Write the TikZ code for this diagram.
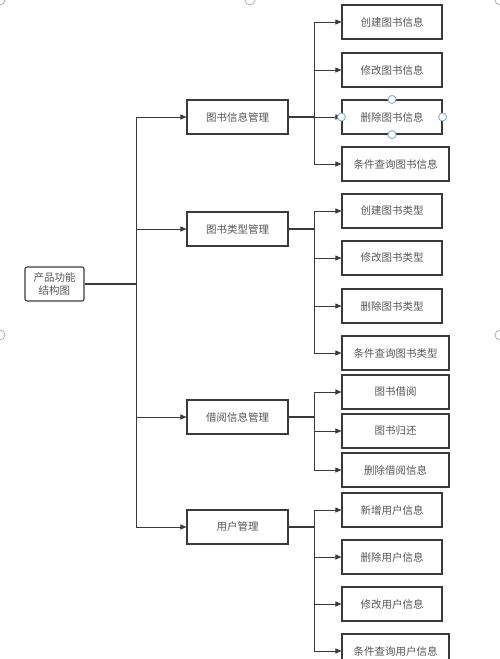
\documentclass[tikz,border=0pt]{standalone}
\usepackage{fontspec}
\setmainfont{Noto Sans CJK SC}
\usepackage{xcolor}
\usetikzlibrary{arrows.meta,positioning,calc}
\definecolor{linegray}{HTML}{3A3A3A}
\definecolor{textgray}{HTML}{555555}
\definecolor{handleblue}{HTML}{7FA8C9}

\begin{document}
\begin{tikzpicture}[x=1pt, y=-1pt,
    every node/.style={font=\fontsize{10.5}{13}\selectfont, text=textgray},
    box/.style={draw=linegray, line width=1.1pt, minimum width=101pt, minimum height=34pt, inner sep=0pt},
    leaf/.style={box, minimum width=100pt},
    wideleaf/.style={box, minimum width=107pt},
    link/.style={draw=linegray, line width=1.3pt},
    arr/.style={draw=linegray, line width=0.9pt, -{Triangle[length=6pt,width=5pt]}}]
    \useasboundingbox (0,0) rectangle (500,659);

    % Root
    \node[box, rounded corners=2pt, minimum width=59pt, align=center] (root) at (54.5,284) {产品功能\\结构图};
    \coordinate (t0) at (136,284);

    % Second level
    \node[box] (p1) at (237.5,117) {图书信息管理};
    \node[box] (p2) at (237.5,229) {图书类型管理};
    \node[box] (p3) at (237.5,417) {借阅信息管理};
    \node[box] (p4) at (237.5,527) {用户管理};

    % Book info
    \node[leaf] (c11) at (392,22) {创建图书信息};
    \node[leaf] (c12) at (392,70) {修改图书信息};
    \node[leaf] (c13) at (392,117) {删除图书信息};
    \node[wideleaf] (c14) at (395.5,164) {条件查询图书信息};

    % Book type
    \node[leaf] (c21) at (392,211) {创建图书类型};
    \node[leaf] (c22) at (392,258) {修改图书类型};
    \node[leaf] (c23) at (392,306) {删除图书类型};
    \node[wideleaf] (c24) at (395.5,353) {条件查询图书类型};

    % Borrowing
    \node[wideleaf] (c31) at (395.5,392) {图书借阅};
    \node[wideleaf] (c32) at (395.5,431) {图书归还};
    \node[wideleaf] (c33) at (395.5,470) {删除借阅信息};

    % Users
    \node[leaf] (c41) at (392,510) {新增用户信息};
    \node[leaf] (c42) at (392,557) {删除用户信息};
    \node[leaf] (c43) at (392,604) {修改用户信息};
    \node[wideleaf] (c44) at (395.5,651) {条件查询用户信息};

    % Root to second level
    \draw[link] (root.east) -- (t0);
    \foreach \p in {p1,p2,p3,p4} {
        \draw[arr] (t0) |- (\p.west);
    }

    % Second level to leaves
    \foreach \p/\kids in {p1/{c11,c12,c13,c14}, p2/{c21,c22,c23,c24}, p3/{c31,c32,c33}, p4/{c41,c42,c43,c44}} {
        \coordinate (b) at ($(\p.east)+(26,0)$);
        \draw[link] (\p.east) -- (b);
        \foreach \c in \kids {
            \draw[arr] (b) |- (\c.west);
        }
    }

    % Selection handles
    \foreach \a in {north,south,east,west} {
        \draw[handleblue, fill=white, line width=0.8pt] (c13.\a) circle (4pt);
    }
    \foreach \pt in {(0,0),(250,0),(500,0),(0,335),(500,335)} {
        \draw[gray!70, line width=0.7pt] \pt circle (5pt);
    }
\end{tikzpicture}
\end{document}
